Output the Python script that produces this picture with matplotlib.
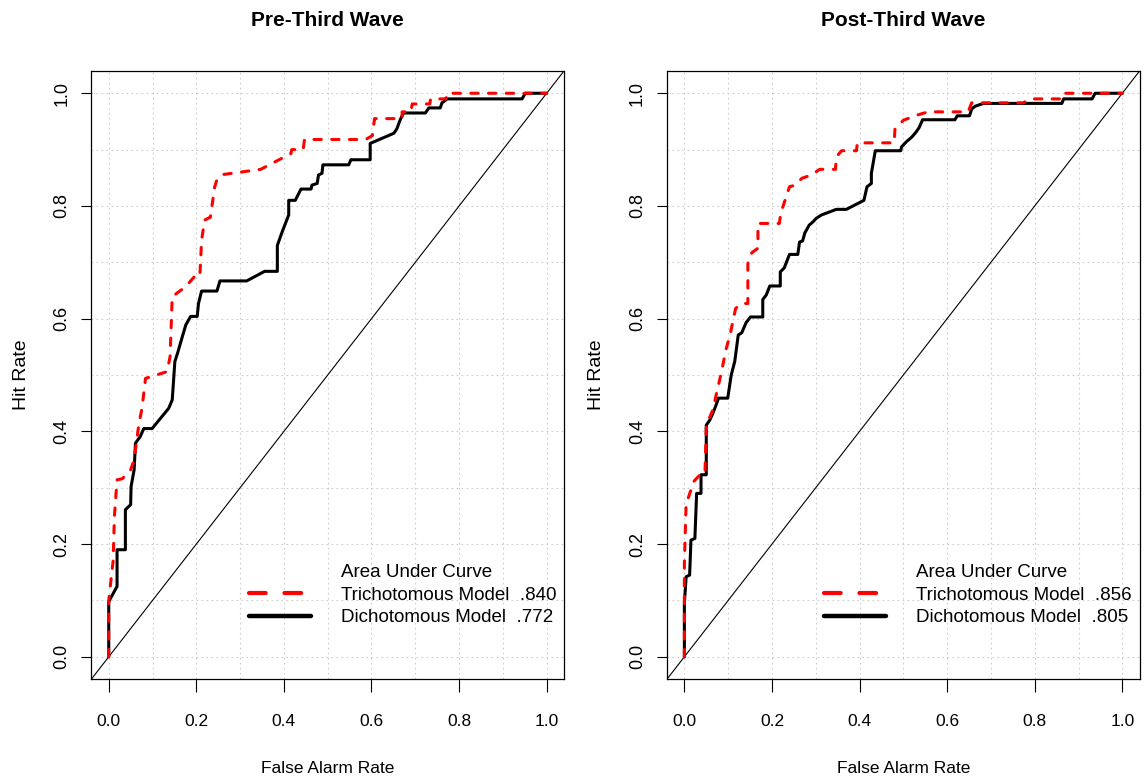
import numpy as np
import matplotlib
matplotlib.use("Agg")
import matplotlib.pyplot as plt
from matplotlib.lines import Line2D


# ROC points (false alarm rate, hit rate)
pre_tri_fpr = [0.0, 0.0, 0.01, 0.013, 0.019, 0.031, 0.05, 0.058, 0.069, 0.076, 0.084,
               0.133, 0.140, 0.145, 0.176, 0.195, 0.208, 0.212, 0.219, 0.232, 0.242,
               0.248, 0.263, 0.347, 0.416, 0.418, 0.444, 0.447, 0.587, 0.602, 0.607,
               0.670, 0.670, 0.690, 0.693, 0.733, 0.735, 0.770, 0.773, 1.0]
pre_tri_tpr = [0.0, 0.10, 0.17, 0.25, 0.314, 0.316, 0.332, 0.349, 0.414, 0.441, 0.494,
               0.506, 0.532, 0.639, 0.657, 0.674, 0.674, 0.739, 0.775, 0.78, 0.834,
               0.849, 0.856, 0.865, 0.893, 0.900, 0.900, 0.918, 0.918, 0.925, 0.955,
               0.955, 0.967, 0.967, 0.981, 0.981, 0.990, 0.990, 1.0, 1.0]

pre_dich_fpr = [0.0, 0.0, 0.019, 0.019, 0.038, 0.038, 0.05, 0.051, 0.058, 0.061, 0.072,
                0.080, 0.099, 0.137, 0.145, 0.151, 0.158, 0.168, 0.176, 0.187, 0.202,
                0.205, 0.212, 0.247, 0.254, 0.315, 0.356, 0.385, 0.385, 0.396, 0.411,
                0.411, 0.426, 0.439, 0.462, 0.464, 0.476, 0.479, 0.487, 0.489, 0.548,
                0.553, 0.597, 0.597, 0.651, 0.658, 0.665, 0.673, 0.723, 0.731, 0.757,
                0.761, 0.773, 0.944, 0.951, 1.0]
pre_dich_tpr = [0.0, 0.098, 0.125, 0.19, 0.19, 0.261, 0.27, 0.302, 0.332, 0.379, 0.391,
                0.405, 0.405, 0.441, 0.456, 0.524, 0.541, 0.568, 0.589, 0.604, 0.604,
                0.627, 0.649, 0.649, 0.667, 0.667, 0.684, 0.684, 0.730, 0.754, 0.784,
                0.810, 0.810, 0.830, 0.830, 0.837, 0.840, 0.855, 0.858, 0.873, 0.873,
                0.882, 0.882, 0.911, 0.929, 0.937, 0.952, 0.965, 0.965, 0.974, 0.974,
                0.983, 0.990, 0.990, 1.0, 1.0]

post_tri_fpr = [0.0, 0.0, 0.004, 0.008, 0.015, 0.02, 0.038, 0.047, 0.050, 0.055, 0.065,
                0.075, 0.084, 0.095, 0.105, 0.117, 0.130, 0.145, 0.145, 0.154, 0.168,
                0.168, 0.217, 0.220, 0.240, 0.253, 0.268, 0.290, 0.309, 0.345, 0.347,
                0.359, 0.393, 0.395, 0.479, 0.481, 0.500, 0.530, 0.557, 0.648, 0.656,
                0.774, 0.789, 0.862, 0.866, 1.0]
post_tri_tpr = [0.0, 0.166, 0.272, 0.28, 0.296, 0.31, 0.325, 0.325, 0.408, 0.42, 0.438,
                0.473, 0.503, 0.545, 0.574, 0.618, 0.627, 0.627, 0.698, 0.717, 0.725,
                0.769, 0.769, 0.787, 0.834, 0.837, 0.849, 0.855, 0.865, 0.865, 0.887,
                0.898, 0.898, 0.912, 0.912, 0.937, 0.952, 0.961, 0.967, 0.967, 0.983,
                0.983, 0.990, 0.990, 1.0, 1.0]

post_dich_fpr = [0.0, 0.0, 0.004, 0.012, 0.015, 0.024, 0.028, 0.038, 0.038, 0.050, 0.050,
                 0.058, 0.065, 0.072, 0.078, 0.099, 0.107, 0.115, 0.123, 0.131, 0.141,
                 0.151, 0.179, 0.179, 0.187, 0.195, 0.219, 0.219, 0.228, 0.240, 0.259,
                 0.263, 0.270, 0.275, 0.285, 0.294, 0.301, 0.313, 0.347, 0.370, 0.410,
                 0.417, 0.427, 0.427, 0.436, 0.494, 0.496, 0.507, 0.519, 0.529, 0.536,
                 0.544, 0.618, 0.623, 0.651, 0.656, 0.664, 0.683, 0.862, 0.866, 0.931,
                 0.938, 1.0]
post_dich_tpr = [0.0, 0.095, 0.142, 0.145, 0.207, 0.21, 0.29, 0.29, 0.323, 0.323, 0.411,
                 0.42, 0.432, 0.446, 0.459, 0.459, 0.500, 0.524, 0.571, 0.575, 0.593,
                 0.603, 0.603, 0.634, 0.642, 0.658, 0.658, 0.683, 0.69, 0.714, 0.714,
                 0.736, 0.738, 0.752, 0.766, 0.772, 0.778, 0.784, 0.794, 0.794, 0.810,
                 0.834, 0.840, 0.858, 0.898, 0.898, 0.905, 0.914, 0.922, 0.931, 0.939,
                 0.953, 0.953, 0.960, 0.960, 0.972, 0.977, 0.982, 0.982, 0.990, 0.990,
                 1.0, 1.0]

titles = ["Pre-Third Wave", "Post-Third Wave"]
auc_tri = [".840", ".856"]
auc_dich = [".772", ".805"]
tick_vals = [0.0, 0.2, 0.4, 0.6, 0.8, 1.0]
tick_labels = ["0.0", "0.2", "0.4", "0.6", "0.8", "1.0"]


def draw_panel(ax, title, tri, dich, tri_auc, dich_auc):
    ax.set_xlim(-0.04, 1.04)
    ax.set_ylim(-0.04, 1.04)

    # dotted grid every 0.1
    grid = np.arange(0, 1.01, 0.1)
    for g in grid:
        ax.axvline(g, color="#cccccc", lw=0.8, dashes=(1.5, 3), zorder=0)
        ax.axhline(g, color="#cccccc", lw=0.8, dashes=(1.5, 3), zorder=0)

    ax.axline((0, 0), (1, 1), color="black", lw=0.8, zorder=1)
    ax.plot(dich[0], dich[1], color="black", lw=2.2, solid_capstyle="round",
            solid_joinstyle="round", zorder=2)
    ax.plot(tri[0], tri[1], color="red", lw=2.2, dashes=(2.4, 3.4),
            dash_capstyle="round", zorder=3)

    ax.set_xticks(tick_vals, tick_labels, fontsize=12.5)
    ax.set_yticks(tick_vals, tick_labels, fontsize=13)
    ax.tick_params(axis="x", direction="out", length=9, width=0.8, pad=16)
    ax.tick_params(axis="y", direction="out", length=7, width=0.8, pad=8)
    for lab in ax.get_yticklabels():
        lab.set_rotation(90)
        lab.set_va("center")
    for sp in ax.spines.values():
        sp.set_linewidth(0.9)

    ax.set_title(title, fontsize=15, fontweight="bold", pad=32)
    ax.set_xlabel("False Alarm Rate", fontsize=12.5)
    ax.set_ylabel("Hit Rate", fontsize=14)
    ax.xaxis.set_label_coords(0.5, -0.135)
    ax.yaxis.set_label_coords(-0.13, 0.5)

    handles = [
        Line2D([], [], color="none"),
        Line2D([], [], color="red", lw=3.0, dashes=(4, 4.5), dash_capstyle="round"),
        Line2D([], [], color="black", lw=3.2, solid_capstyle="round"),
    ]
    labels = ["Area Under Curve",
              "Trichotomous Model  " + tri_auc,
              "Dichotomous Model  " + dich_auc]
    ax.legend(handles, labels, loc="upper left", bbox_to_anchor=(0.333, 0.19),
              frameon=False, fontsize=13.5, handlelength=3.3, handletextpad=1.6,
              labelspacing=0.3, borderpad=0, borderaxespad=0)


def main():
    plt.rcParams["font.family"] = ["Liberation Sans", "DejaVu Sans"]
    fig = plt.figure(figsize=(11.46, 7.84), dpi=100)
    ax1 = fig.add_axes([0.0796, 0.1335, 0.4127, 0.7763])
    ax2 = fig.add_axes([0.5819, 0.1335, 0.4127, 0.7763])

    draw_panel(ax1, titles[0], (pre_tri_fpr, pre_tri_tpr),
               (pre_dich_fpr, pre_dich_tpr), auc_tri[0], auc_dich[0])
    draw_panel(ax2, titles[1], (post_tri_fpr, post_tri_tpr),
               (post_dich_fpr, post_dich_tpr), auc_tri[1], auc_dich[1])

    fig.savefig("out.png", dpi=100)


if __name__ == "__main__":
    main()
